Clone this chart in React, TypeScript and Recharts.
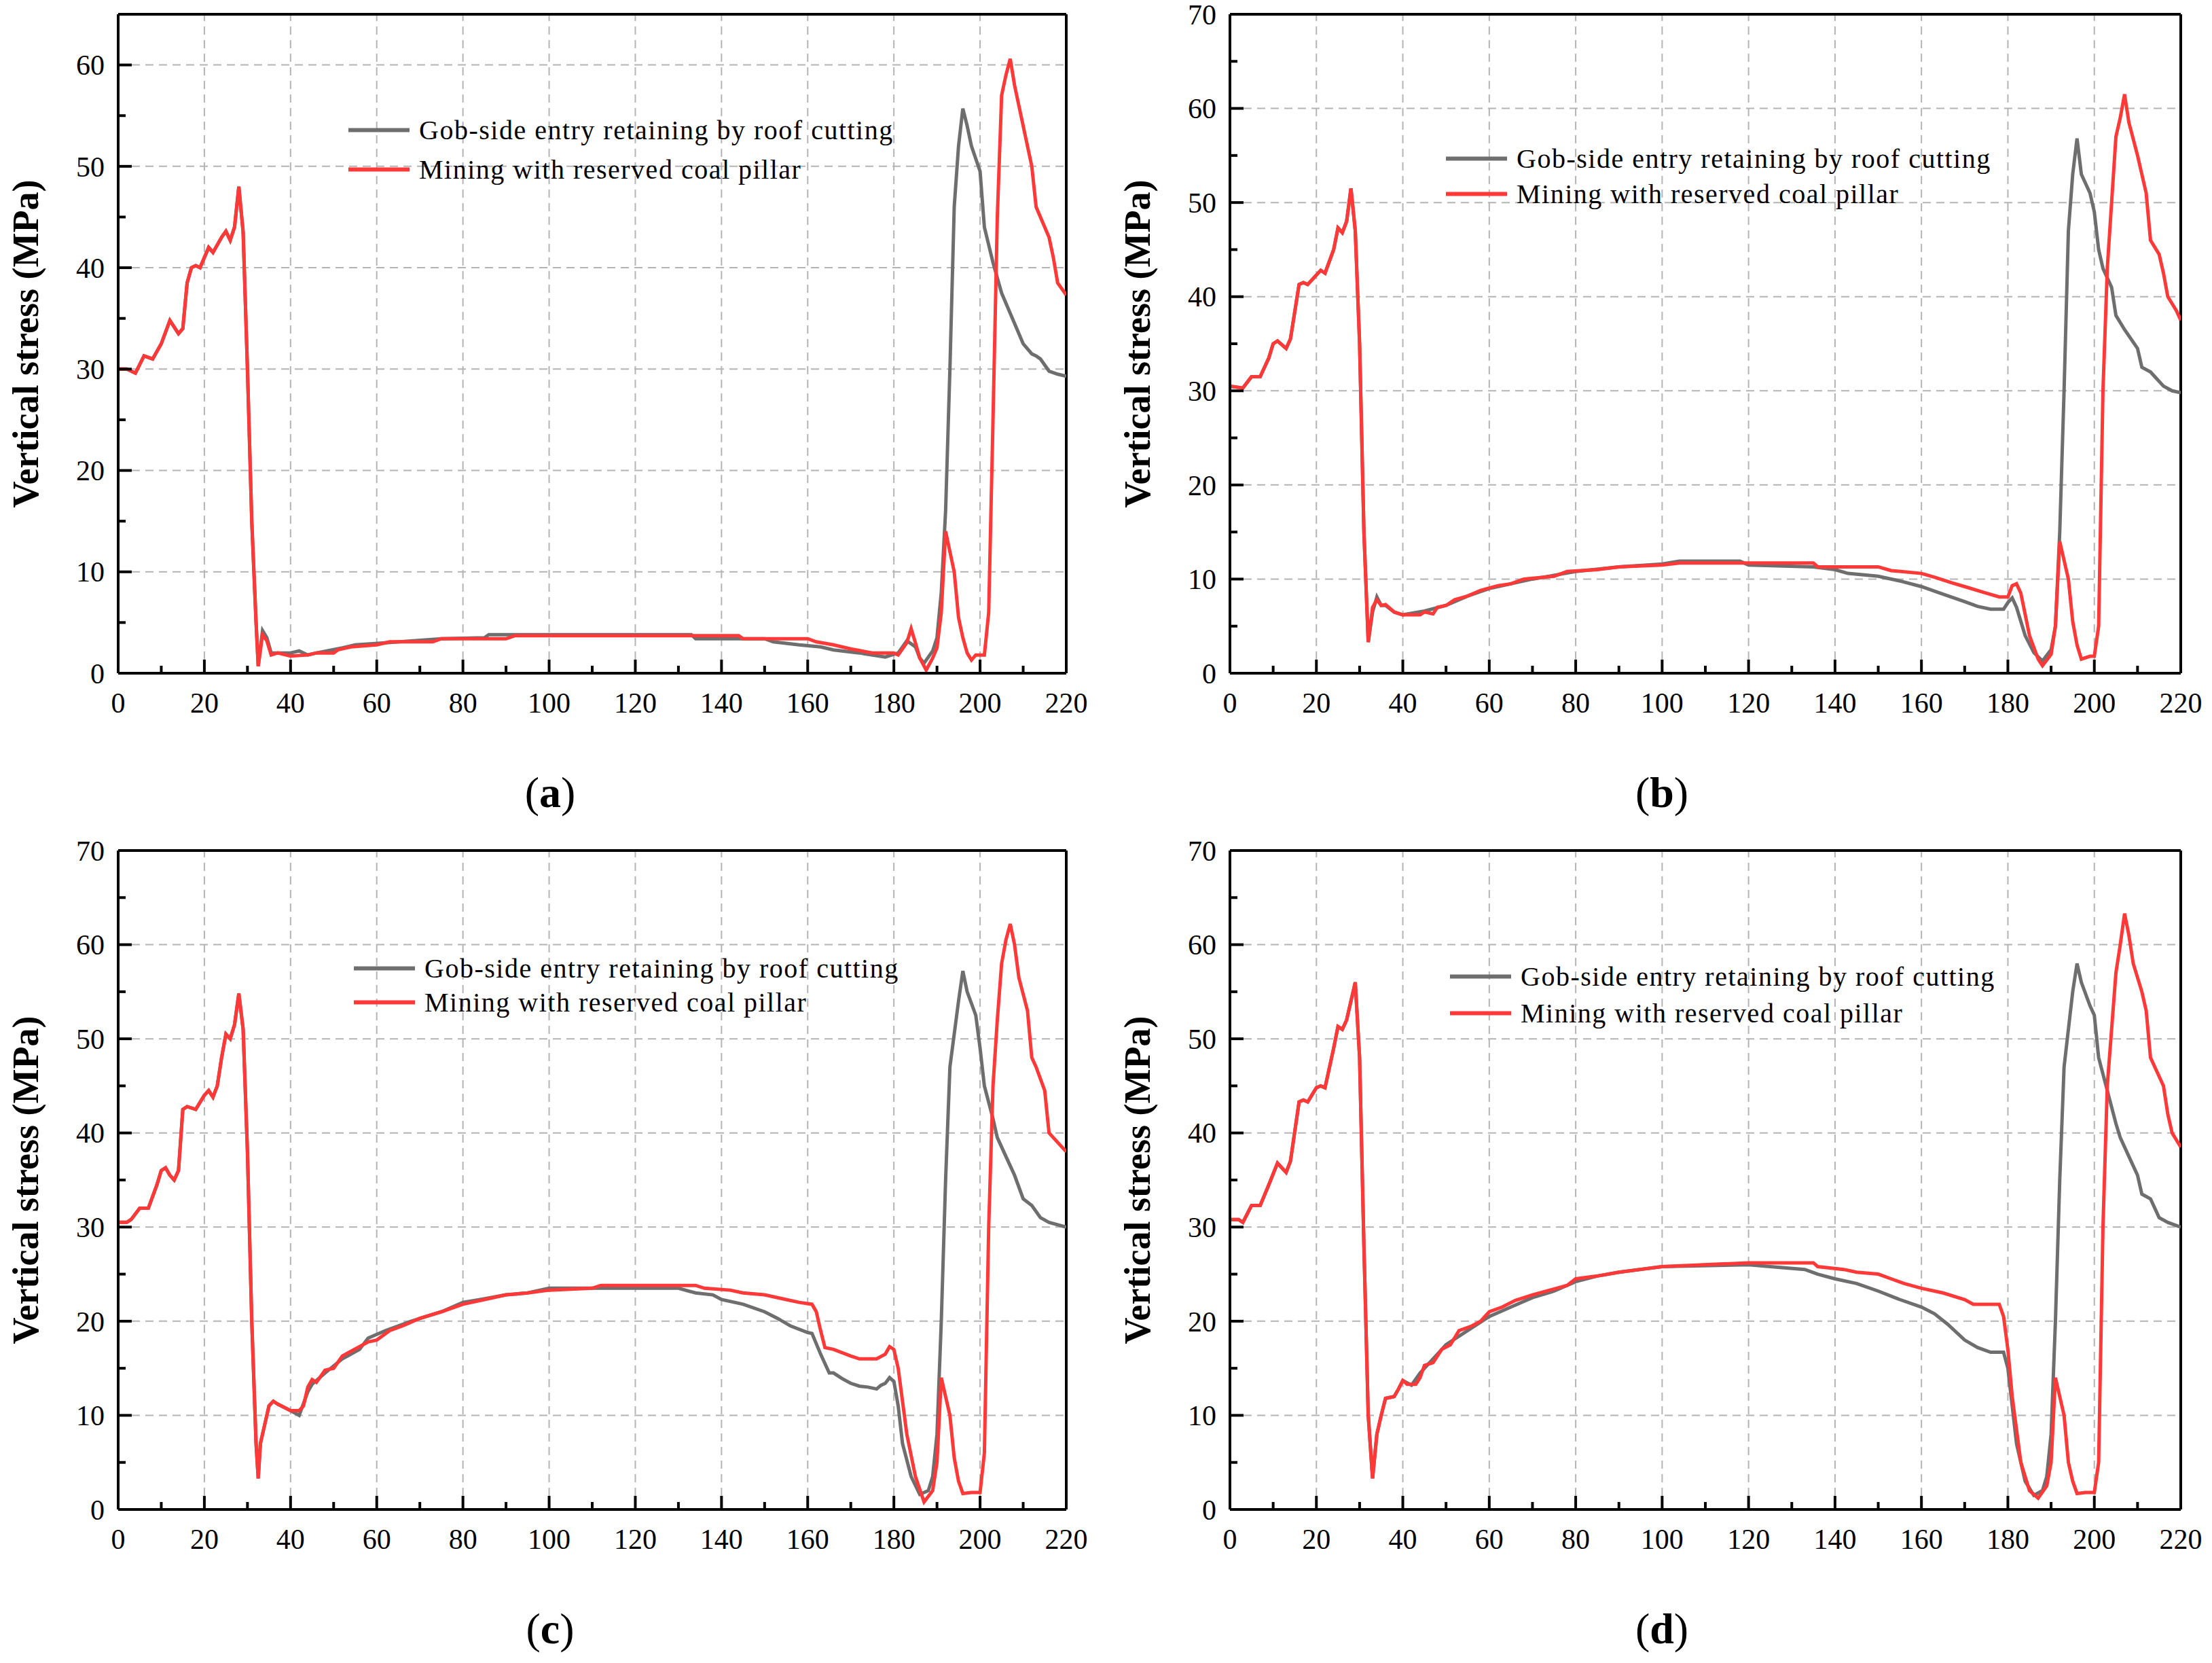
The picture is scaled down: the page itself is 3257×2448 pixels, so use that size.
import React from 'react'
import { LineChart, Line, XAxis, YAxis, ReferenceLine } from 'recharts'

// (a)
const aRedX = [0, 2, 4, 6, 8, 10, 12, 14, 15, 16, 17, 18, 19, 21, 22, 24, 25, 26, 27, 28, 29, 30, 31, 32, 32.5, 33.5, 34.5, 35.5, 37, 40, 44, 46, 50, 51, 54, 60, 63, 73, 75, 90, 92, 144, 145, 160, 162, 166, 170, 175, 180, 181, 183, 184, 185, 186, 187.5, 189, 190, 191, 192, 193, 194, 195, 196, 197, 198, 199, 201, 202, 203, 204, 205, 206, 207, 208, 210, 212, 213, 214, 216, 217, 218, 220]
const aRedY = [30, 30, 29.6, 31.3, 31, 32.5, 34.8, 33.5, 34, 38.5, 40, 40.2, 40, 42, 41.5, 43, 43.6, 42.7, 44, 48, 43.5, 30, 15, 5, 0.7, 3.8, 3.2, 1.8, 2, 1.7, 1.8, 2, 2, 2.3, 2.6, 2.8, 3.1, 3.1, 3.4, 3.4, 3.7, 3.7, 3.4, 3.4, 3.1, 2.8, 2.4, 2, 2, 1.8, 3, 4.4, 3, 1.5, 0.3, 1.5, 2.5, 6, 14, 12, 10, 5.5, 3.5, 2, 1.3, 1.8, 1.8, 6, 25, 45, 57, 59, 60.6, 58, 54, 50, 46, 45, 43, 41, 38.5, 37.3]
const aGrayX = [33.5, 34.5, 35.5, 37, 40, 42, 44, 46, 52, 55, 62, 75, 85, 86, 133, 134, 150, 152, 158, 163, 166, 172, 178, 181, 183, 185, 186, 187, 189, 190, 191, 192, 193, 194, 195, 196, 197, 198, 200, 201, 203, 205, 207, 210, 212, 213, 214, 216, 218, 220]
const aGrayY = [4.2, 3.5, 2, 2, 2, 2.2, 1.8, 2, 2.5, 2.8, 3, 3.4, 3.5, 3.8, 3.8, 3.4, 3.4, 3.1, 2.8, 2.6, 2.3, 2, 1.6, 2, 3.2, 2.6, 1.5, 1, 2.2, 3.5, 8, 16, 30, 46, 52, 55.7, 54, 52, 49.5, 44, 40.5, 37.5, 35.5, 32.5, 31.5, 31.3, 31, 29.8, 29.5, 29.3]

// (b)
const bRedX = [0, 3, 5, 7, 9, 10, 11, 13, 14, 16, 17, 18, 20, 21, 22, 24, 25, 26, 27, 28, 29, 30, 31, 32, 33, 34, 35, 36, 38, 40, 44, 45, 47, 48, 50, 52, 55, 58, 62, 65, 68, 75, 78, 85, 90, 100, 104, 135, 136, 150, 153, 160, 163, 167, 170, 175, 178, 180, 181, 182, 183, 185, 187, 188, 190, 191, 192, 193, 194, 195, 196, 197, 199, 200, 201, 202, 203, 205, 206, 207, 208, 210, 212, 213, 215, 216, 217, 219, 220]
const bRedY = [30.5, 30.3, 31.5, 31.5, 33.5, 35, 35.3, 34.5, 35.5, 41.3, 41.5, 41.3, 42.3, 42.8, 42.5, 45, 47.3, 46.8, 48, 51.5, 47, 35, 15, 3.3, 7, 7.8, 7.2, 7.3, 6.5, 6.2, 6.2, 6.5, 6.3, 7, 7.2, 7.8, 8.2, 8.8, 9.3, 9.5, 10, 10.3, 10.8, 11, 11.3, 11.5, 11.7, 11.7, 11.3, 11.3, 10.9, 10.6, 10.2, 9.6, 9.2, 8.5, 8.1, 8.1, 9.3, 9.5, 8.5, 4, 1.5, 0.8, 2, 5, 14, 12, 10, 5.5, 3, 1.5, 1.8, 1.8, 5, 30, 43, 57, 59, 61.5, 58.5, 55, 51, 46, 44.5, 42.5, 40, 38.5, 37.5]
const bGrayX = [33, 34, 35, 36, 38, 40, 45, 50, 55, 60, 70, 80, 90, 100, 104, 118, 120, 135, 140, 143, 150, 155, 160, 165, 170, 173, 176, 179, 180, 181, 182, 184, 186, 188, 190, 191, 192, 193, 194, 195, 196, 197, 199, 200, 201, 202, 204, 205, 207, 210, 211, 213, 214, 216, 218, 220]
const bGrayY = [6.5, 8.1, 7.2, 7.2, 6.5, 6.2, 6.6, 7.2, 8.2, 9, 10, 10.8, 11.3, 11.6, 11.9, 11.9, 11.5, 11.3, 11, 10.6, 10.3, 9.8, 9.2, 8.4, 7.6, 7.1, 6.8, 6.8, 7.5, 8, 7, 4, 2.2, 1.3, 2.5, 5, 15, 30, 47, 53, 56.8, 53, 51, 49, 45, 43, 41, 38, 36.5, 34.5, 32.5, 32, 31.5, 30.5, 30, 29.8]

// (c)
const cRedX = [0, 2, 3, 5, 7, 9, 10, 11, 12, 13, 14, 15, 16, 18, 20, 21, 22, 23, 24, 25, 26, 27, 28, 29, 30, 31, 32, 32.5, 33, 34, 35, 36, 37, 40, 42, 43, 44, 45, 46, 48, 50, 52, 54, 58, 60, 63, 66, 70, 75, 80, 85, 90, 95, 100, 110, 112, 134, 136, 142, 145, 150, 155, 158, 161, 162, 163, 164, 166, 170, 172, 176, 178, 179, 180, 181, 183, 185, 187, 189, 190, 191, 192, 193, 194, 195, 196, 198, 200, 201, 202, 203, 204, 205, 206, 207, 208, 209, 211, 212, 213, 215, 216, 218, 220]
const cRedY = [30.5, 30.5, 30.8, 32, 32, 34.5, 36, 36.3, 35.5, 35, 36, 42.5, 42.8, 42.5, 44, 44.5, 43.8, 45, 48, 50.5, 50, 51.5, 54.8, 51, 38, 20, 7, 3.3, 7, 9, 11, 11.5, 11.2, 10.5, 10.5, 11, 13, 13.8, 13.5, 14.8, 15, 16.3, 16.8, 17.8, 18, 19, 19.5, 20.3, 21, 21.8, 22.3, 22.8, 23, 23.3, 23.5, 23.8, 23.8, 23.5, 23.3, 23, 22.8, 22.3, 22, 21.8, 21, 19, 17.2, 17, 16.3, 16, 16, 16.5, 17.3, 17, 15, 8, 3.5, 0.8, 2, 5, 14, 12, 10, 5.5, 3, 1.7, 1.8, 1.8, 6, 30, 45, 52, 58, 60.5, 62.2, 60, 56.5, 53, 48, 47, 44.5, 40, 39, 38]
const cGrayX = [40, 42, 44, 45, 48, 52, 56, 58, 62, 68, 75, 80, 84, 90, 95, 100, 130, 134, 138, 140, 145, 150, 153, 156, 160, 161, 163, 165, 166, 168, 170, 172, 174, 176, 177, 178, 179, 180, 181, 182, 184, 186, 188, 189, 190, 191, 192, 193, 195, 196, 197, 199, 200, 201, 203, 204, 206, 208, 210, 212, 214, 216, 220]
const cGrayY = [10.5, 10, 12.5, 13.3, 14.5, 16, 17, 18.2, 19, 20, 21, 22, 22.3, 22.8, 23, 23.5, 23.5, 23, 22.8, 22.3, 21.8, 21, 20.3, 19.5, 18.8, 18.7, 16.5, 14.5, 14.5, 13.9, 13.4, 13.1, 13, 12.8, 13.2, 13.4, 14, 13.6, 11, 7, 3.5, 1.6, 2, 3.5, 8, 20, 35, 47, 54, 57.2, 55, 52.5, 49, 45, 41.5, 39.5, 37.5, 35.5, 33, 32.3, 31, 30.5, 30]

// (d)
const dRedX = [0, 2, 3, 5, 7, 9, 11, 12, 13, 14, 16, 17, 18, 20, 21, 22, 24, 25, 26, 27, 29, 30, 31, 32, 33, 34, 35, 36, 38, 39, 40, 41, 43, 44, 45, 47, 49, 51, 53, 56, 58, 60, 63, 66, 70, 74, 78, 80, 85, 90, 95, 100, 120, 135, 136, 142, 145, 150, 153, 156, 160, 165, 170, 172, 176, 178, 179, 180, 181, 183, 185, 187, 189, 190, 191, 192, 193, 194, 195, 196, 198, 200, 201, 202, 203, 205, 206, 207, 208, 209, 211, 212, 213, 214, 216, 217, 218, 220]
const dRedY = [30.8, 30.8, 30.5, 32.3, 32.3, 34.5, 36.8, 36.3, 35.8, 37, 43.3, 43.5, 43.3, 44.8, 45, 44.8, 49, 51.3, 51, 52, 56, 48, 28, 10, 3.3, 8, 10, 11.8, 12, 12.8, 13.7, 13.3, 13.3, 14, 15.3, 15.6, 17, 17.5, 19, 19.5, 20, 21, 21.5, 22.2, 22.8, 23.3, 23.8, 24.5, 24.8, 25.2, 25.5, 25.8, 26.2, 26.2, 25.8, 25.5, 25.2, 25, 24.5, 24, 23.5, 23, 22.3, 21.8, 21.8, 21.8, 20.5, 17, 12, 5, 2, 1.2, 2.5, 5, 14, 12, 10, 5, 3, 1.7, 1.8, 1.8, 5, 30, 45, 57, 60, 63.3, 61, 58, 55, 53, 48, 47, 45, 42, 40, 38.5]
const dGrayX = [40, 42, 44, 46, 48, 50, 55, 60, 65, 70, 75, 80, 85, 90, 100, 120, 125, 133, 136, 140, 145, 150, 155, 160, 163, 166, 170, 173, 176, 179, 180, 181, 182, 184, 186, 188, 189, 190, 191, 192, 193, 195, 196, 197, 199, 200, 201, 203, 205, 206, 208, 210, 211, 213, 215, 217, 220]
const dGrayY = [13.7, 13.2, 14.5, 15.5, 16.5, 17.5, 19, 20.5, 21.5, 22.5, 23.2, 24.2, 24.8, 25.2, 25.8, 26, 25.8, 25.5, 25, 24.5, 24, 23.2, 22.3, 21.5, 20.8, 19.7, 18, 17.2, 16.7, 16.7, 15, 11, 7, 3, 1.5, 2, 3.5, 8, 20, 35, 47, 55, 58, 56, 53.5, 52.5, 48, 44.5, 41, 39.5, 37.5, 35.5, 33.5, 33, 31, 30.5, 30]

const X_TICKS = [0, 10, 20, 30, 40, 50, 60, 70, 80, 90, 100, 110, 120, 130, 140, 150, 160, 170, 180, 190, 200, 210, 220]
const X_GRID = [20, 40, 60, 80, 100, 120, 140, 160, 180, 200]

const zip = (xs: number[], ys: number[]) => xs.map((x, i) => ({ x, y: ys[i] }))
// the gray curve follows the red one until the entry drops
const grayOf = (rx: number[], ry: number[], gx: number[], gy: number[]) =>
  zip(rx, ry).filter((p) => p.x < gx[0]).concat(zip(gx, gy))

const FONT = '"Liberation Serif", "DejaVu Serif", serif'
const GRAY = '#6e6e6e'
const RED = '#ff3838'

function XTick({ x, y, payload }: any) {
  const major = payload.value % 20 === 0
  return (
    <g>
      <line x1={x} x2={x} y1={y} y2={y - (major ? 20 : 11)} stroke="#000" strokeWidth={4} />
      {major && (
        <text x={x} y={y + 58} textAnchor="middle" fontSize={42} fontFamily={FONT} fill="#000">
          {payload.value}
        </text>
      )}
    </g>
  )
}

function YTick({ x, y, payload }: any) {
  const major = payload.value % 10 === 0
  return (
    <g>
      <line x1={x} x2={x + (major ? 20 : 11)} y1={y} y2={y} stroke="#000" strokeWidth={4} />
      {major && (
        <text x={x - 20} y={y} dy="0.35em" textAnchor="end" fontSize={42} fontFamily={FONT} fill="#000">
          {payload.value}
        </text>
      )}
    </g>
  )
}

type PanelProps = {
  left: number
  top: number
  marginLeft: number
  marginRight: number
  yMax: number
  red: { x: number; y: number }[]
  gray: { x: number; y: number }[]
  label: string
  legendX: number
  legendY: number
  legendGap: number
}

function Panel(p: PanelProps) {
  const yTicks: number[] = []
  for (let v = 0; v <= p.yMax; v += 5) if (v <= 60 || p.yMax === 70) yTicks.push(v)
  const yGrid = yTicks.filter((v) => v > 0 && v % 10 === 0 && v < p.yMax)
  const plotLeft = p.left + p.marginLeft + 100
  return (
    <>
      <div style={{ position: 'absolute', left: p.left, top: p.top }}>
        <LineChart
          width={1628}
          height={1100}
          margin={{ top: 21, right: p.marginRight, bottom: 49, left: p.marginLeft }}
        >
          <XAxis
            dataKey="x"
            type="number"
            domain={[0, 220]}
            ticks={X_TICKS}
            interval={0}
            tick={<XTick />}
            tickSize={0}
            tickMargin={0}
            tickLine={false}
            height={60}
            axisLine={{ stroke: '#000', strokeWidth: 4 }}
            allowDataOverflow
          />
          <YAxis
            type="number"
            domain={[0, p.yMax]}
            ticks={yTicks}
            interval={0}
            tick={<YTick />}
            tickSize={0}
            tickMargin={0}
            tickLine={false}
            width={100}
            axisLine={{ stroke: '#000', strokeWidth: 4 }}
          />
          {X_GRID.map((v) => (
            <ReferenceLine key={'gx' + v} x={v} stroke="#b4b4b4" strokeWidth={2} strokeDasharray="12 8" />
          ))}
          {yGrid.map((v) => (
            <ReferenceLine key={'gy' + v} y={v} stroke="#b4b4b4" strokeWidth={2} strokeDasharray="12 8" />
          ))}
          <ReferenceLine x={220} stroke="#000" strokeWidth={4} />
          <ReferenceLine y={p.yMax} stroke="#000" strokeWidth={4} />
          <Line data={p.gray} dataKey="y" type="linear" stroke={GRAY} strokeWidth={5} dot={false} isAnimationActive={false} />
          <Line data={p.red} dataKey="y" type="linear" stroke={RED} strokeWidth={5} dot={false} isAnimationActive={false} />
        </LineChart>
      </div>
      <div
        style={{
          position: 'absolute',
          left: plotLeft - 136,
          top: p.top + 506,
          transform: 'translate(-50%, -50%) rotate(-90deg)',
          fontFamily: FONT,
          fontWeight: 'bold',
          fontSize: 54,
          whiteSpace: 'nowrap',
        }}
      >
        Vertical stress (MPa)
      </div>
      {[
        { c: GRAY, t: 'Gob-side entry retaining by roof cutting' },
        { c: RED, t: 'Mining with reserved coal pillar' },
      ].map((e, i) => (
        <div
          key={e.t}
          style={{
            position: 'absolute',
            left: p.legendX,
            top: p.legendY + i * p.legendGap,
            transform: 'translateY(-50%)',
            display: 'flex',
            alignItems: 'center',
            fontFamily: FONT,
            fontSize: 40,
            letterSpacing: 1.5,
            whiteSpace: 'nowrap',
          }}
        >
          <div style={{ width: 90, height: 6, background: e.c, marginRight: 14 }} />
          {e.t}
        </div>
      ))}
      <div
        style={{
          position: 'absolute',
          left: plotLeft + 636,
          top: p.top + 1167,
          transform: 'translate(-50%, -50%)',
          fontFamily: FONT,
          fontSize: 64,
        }}
      >
        (<b>{p.label}</b>)
      </div>
    </>
  )
}

export default function App() {
  return (
    <div style={{ position: 'relative', width: 3257, height: 2448, background: '#fff', margin: -8 }}>
      <Panel left={0} top={0} marginLeft={74} marginRight={58} yMax={65}
        red={zip(aRedX, aRedY)} gray={grayOf(aRedX, aRedY, aGrayX, aGrayY)}
        label="a" legendX={513} legendY={191} legendGap={58} />
      <Panel left={1628} top={0} marginLeft={83} marginRight={45} yMax={70}
        red={zip(bRedX, bRedY)} gray={grayOf(bRedX, bRedY, bGrayX, bGrayY)}
        label="b" legendX={2129} legendY={233} legendGap={52} />
      <Panel left={0} top={1231} marginLeft={74} marginRight={58} yMax={70}
        red={zip(cRedX, cRedY)} gray={grayOf(cRedX, cRedY, cGrayX, cGrayY)}
        label="c" legendX={521} legendY={1425} legendGap={50} />
      <Panel left={1628} top={1231} marginLeft={83} marginRight={45} yMax={70}
        red={zip(dRedX, dRedY)} gray={grayOf(dRedX, dRedY, dGrayX, dGrayY)}
        label="d" legendX={2135} legendY={1437} legendGap={54} />
    </div>
  )
}
